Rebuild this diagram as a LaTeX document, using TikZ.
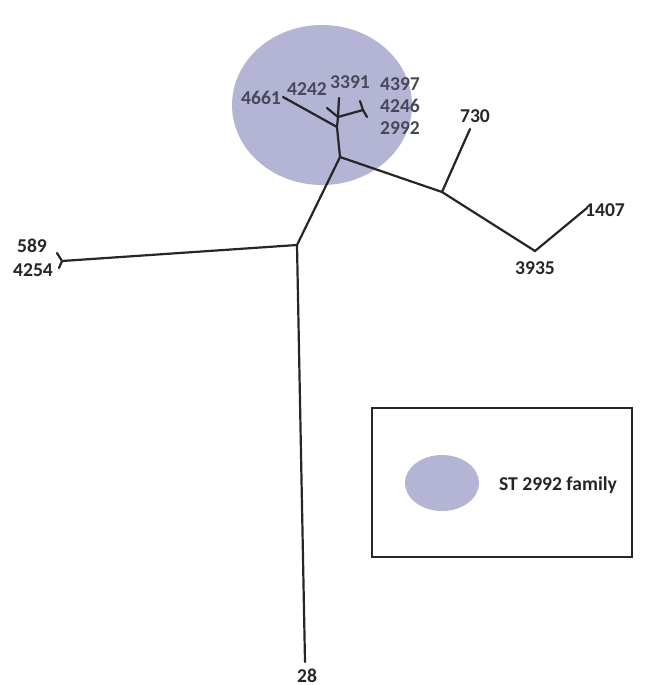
\documentclass[tikz,border=0pt]{standalone}
\usepackage{fontspec}
\setmainfont{Carlito}
\usetikzlibrary{positioning,shapes.geometric}
\definecolor{stpurple}{RGB}{180,180,212}
\definecolor{labgray}{RGB}{72,72,92}

\begin{document}
\begin{tikzpicture}[
      x=0.5pt,y=-0.5pt,
      branch/.style={line width=1.1pt,draw=black!85,line cap=round},
      leaf/.style={font=\bfseries\fontsize{9.8}{11}\selectfont,text=black!85,inner sep=1pt},
      inleaf/.style={leaf,text=labgray},
      family/.style={ellipse,fill=stpurple,draw=none,inner sep=0pt}
    ]
      \useasboundingbox (0,0) rectangle (645,685);

      % ST 2992 family
      \node[family,minimum width=90pt,minimum height=80pt] (st) at (322,105) {};

      % tree points
      \coordinate (root) at (297,245);
      \coordinate (end28) at (305,662);
      \coordinate (fork589) at (62,261);
      \coordinate (end589) at (57,253);
      \coordinate (end4254) at (59,268);
      \coordinate (b) at (340,157);
      \coordinate (c) at (337,127);
      \coordinate (d) at (338,117);
      \coordinate (end3391) at (339,98);
      \coordinate (end4242) at (327,108);
      \coordinate (end4661) at (283,97);
      \coordinate (e) at (363,110);
      \coordinate (end4397) at (360,101);
      \coordinate (end2992) at (367,117);
      \coordinate (f) at (442,192);
      \coordinate (end730) at (470,129);
      \coordinate (g) at (535,251);
      \coordinate (end1407) at (587,208);

      \draw[branch] (root) -- (end28);
      \draw[branch] (root) -- (fork589);
      \draw[branch] (end589) -- (fork589) -- (end4254);
      \draw[branch] (root) -- (b);
      \draw[branch] (b) -- (c) -- (d) -- (end3391);
      \draw[branch] (c) -- (end4661);
      \draw[branch] (d) -- (end4242);
      \draw[branch] (d) -- (e);
      \draw[branch] (end4397) -- (e) -- (end2992);
      \draw[branch] (b) -- (f) -- (g) -- (end1407);
      \draw[branch] (f) -- (end730);

      % labels
      \node[leaf] (l28) at (307,676) {28};
      \node[leaf] (l589) at (32,246) {589};
      \node[leaf] (l4254) at (33,270) {4254};
      \node[inleaf] (l4661) at (261,98) {4661};
      \node[inleaf] (l4242) at (307,89) {4242};
      \node[inleaf] (l3391) at (350,82) {3391};
      \node[inleaf] (l4397) at (400,84) {4397};
      \node[inleaf] (l4246) at (400,106) {4246};
      \node[inleaf] (l2992) at (400,128) {2992};
      \node[leaf] (l730) at (475,116) {730};
      \node[leaf] (l3935) at (535,268) {3935};
      \node[leaf] (l1407) at (605,210) {1407};

      % legend
      \node[draw=black!85,line width=1pt,minimum width=130pt,minimum height=74.5pt] (legend) at (502,482.5) {};
      \node[family,minimum width=37pt,minimum height=28pt] (legst) at (442,483) {};
      \node[leaf] (legtext) at (558,485) {ST 2992 family};
    \end{tikzpicture}
\end{document}
